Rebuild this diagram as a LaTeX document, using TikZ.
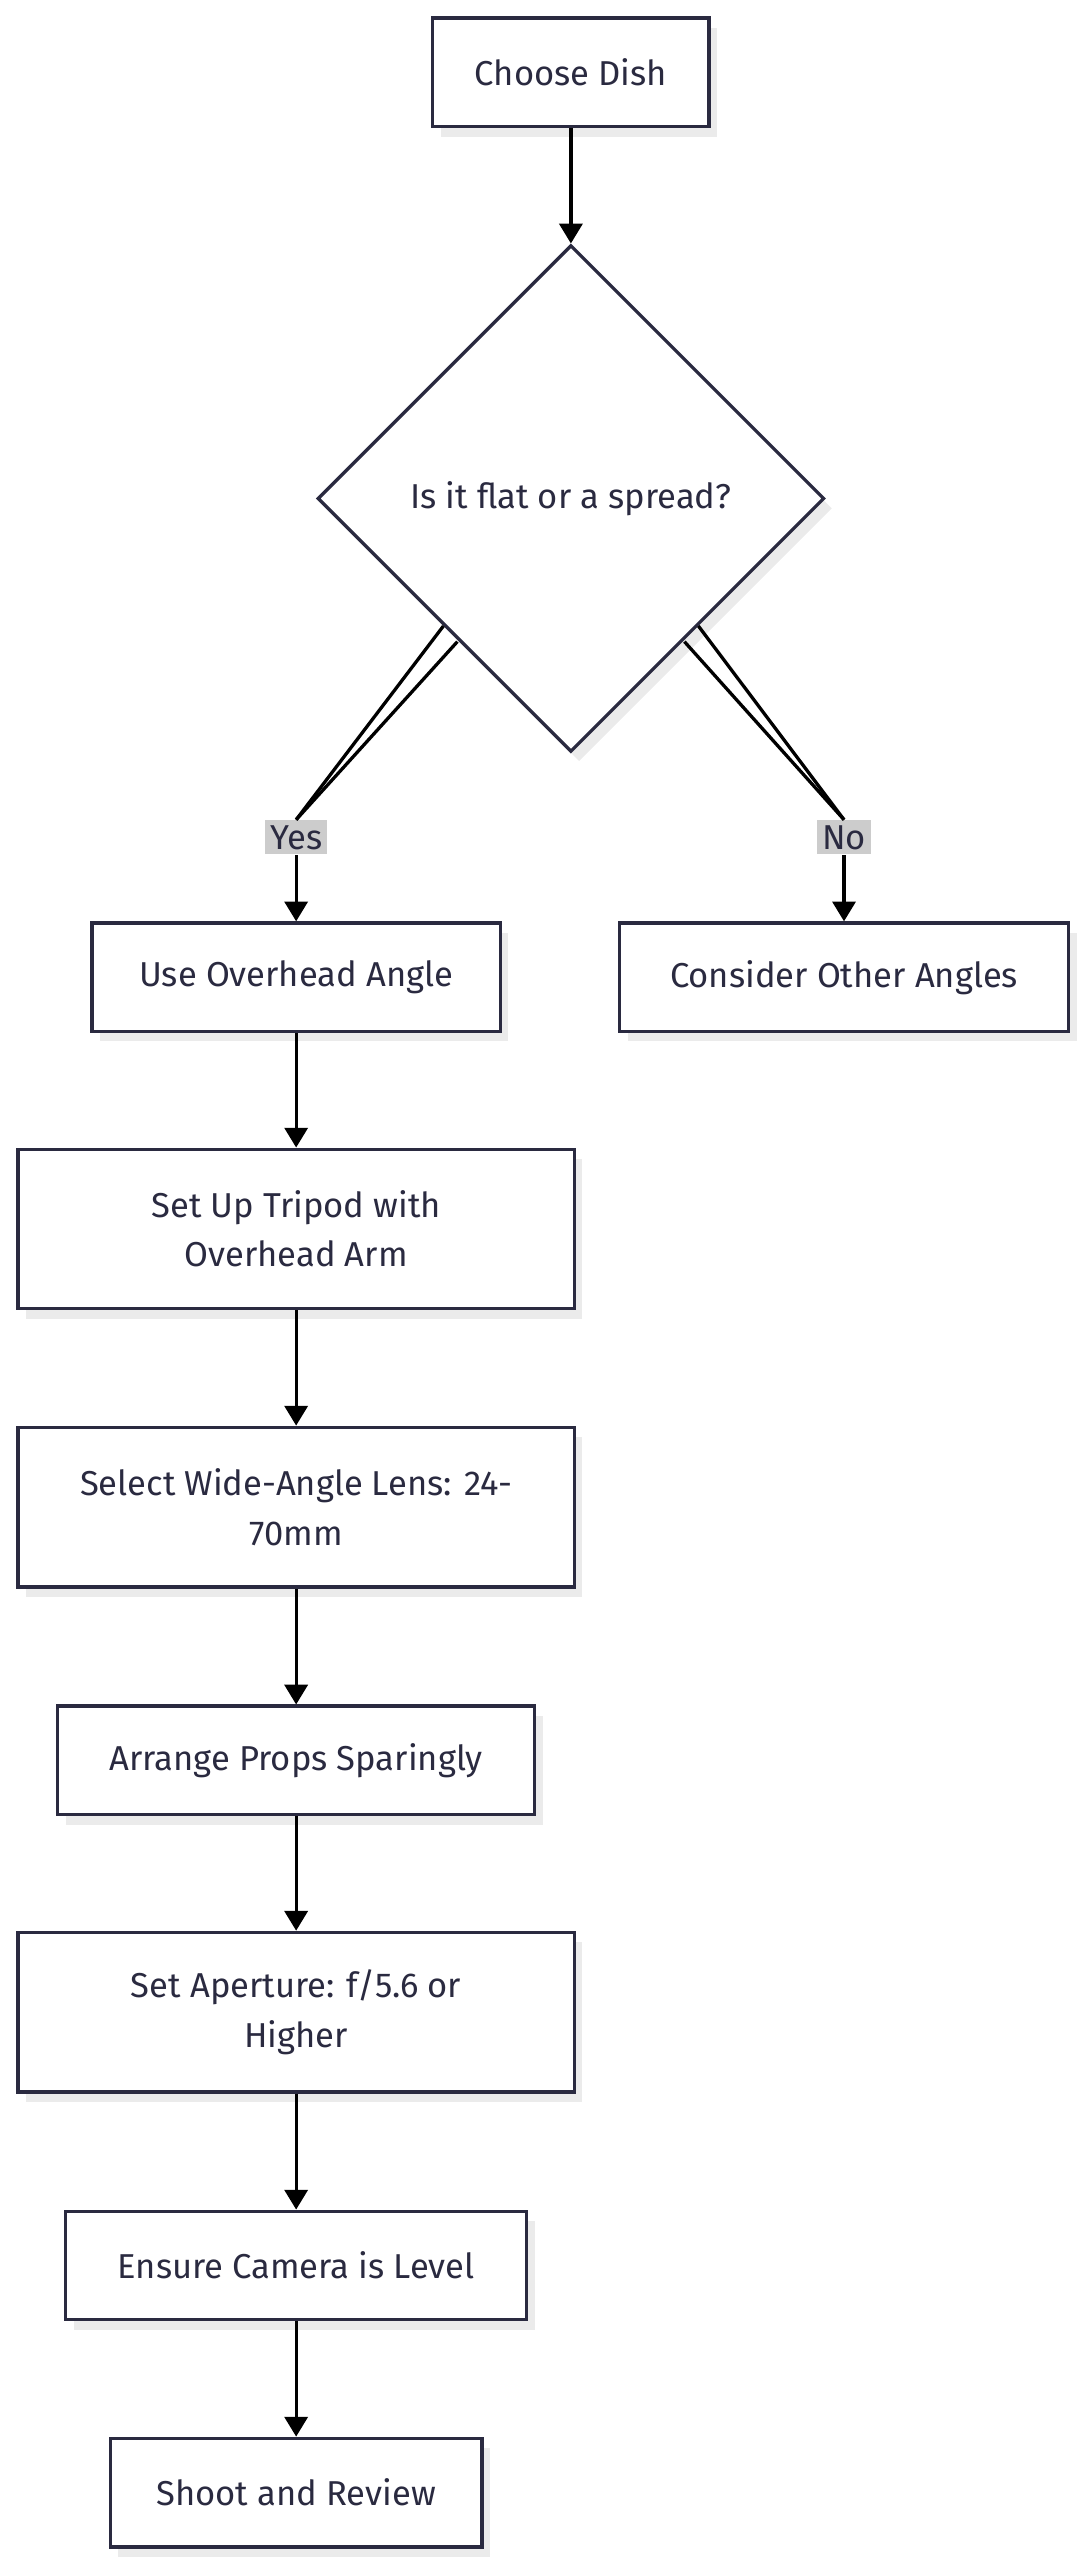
\documentclass[tikz,border=0pt]{standalone}
\usepackage{fontspec}
\setmainfont{Fira Sans}
\usetikzlibrary{shapes.geometric,arrows.meta}
\definecolor{ink}{HTML}{2A2A40}
\tikzset{
  box/.style={draw=ink,line width=1pt,fill=white,text=ink,align=center,inner sep=0pt,
    preaction={fill=black!8,transform canvas={xshift=2.5pt,yshift=-3pt}}},
  lab/.style={fill=black!20,text=ink,inner sep=1.5pt},
  flow/.style={line width=1pt,-{Triangle[length=6pt,width=7pt]}}
}
\begin{document}
\begin{tikzpicture}[x=0.5pt,y=-0.5pt,font=\fontsize{10.5}{15}\selectfont]
\useasboundingbox (0,0) rectangle (660,1556);
\node [box,minimum width=84pt,minimum height=33pt] (dish) at (347,44) {Choose Dish};
\node [box,diamond,minimum size=154pt] (flat) at (347,303) {Is it flat or a spread?};
\node [box,minimum width=124pt,minimum height=33pt] (over) at (180,594) {Use Overhead Angle};
\node [box,minimum width=136.5pt,minimum height=33pt] (other) at (513,594) {Consider Other Angles};
\node [box,minimum width=169pt,minimum height=48.5pt] (tripod) at (180,747) {Set Up Tripod with\\Overhead Arm};
\node [box,minimum width=169pt,minimum height=48.5pt] (lens) at (180,916) {Select Wide-Angle Lens: 24-\\70mm};
\node [box,minimum width=145pt,minimum height=33pt] (props) at (180,1070) {Arrange Props Sparingly};
\node [box,minimum width=169pt,minimum height=48.5pt] (aper) at (180,1223) {Set Aperture: f/5.6 or\\Higher};
\node [box,minimum width=140pt,minimum height=33pt] (level) at (180,1377) {Ensure Camera is Level};
\node [box,minimum width=113pt,minimum height=33pt] (shoot) at (180,1515) {Shoot and Review};
\node [lab] (yes) at (180,509) {Yes};
\node [lab] (no) at (513,509) {No};
\draw [flow] (dish) -- (flat);
\draw [line width=1pt] (flat.south west) ++(0,0) -- (yes.north);
\draw [line width=1pt] (flat.south east) -- (no.north);
\draw [line width=1pt] (278,390) -- (yes.north);
\draw [line width=1pt] (416,390) -- (no.north);
\draw [flow] (yes) -- (over);
\draw [flow] (no) -- (other);
\draw [flow] (over) -- (tripod);
\draw [flow] (tripod) -- (lens);
\draw [flow] (lens) -- (props);
\draw [flow] (props) -- (aper);
\draw [flow] (aper) -- (level);
\draw [flow] (level) -- (shoot);
\end{tikzpicture}
\end{document}
